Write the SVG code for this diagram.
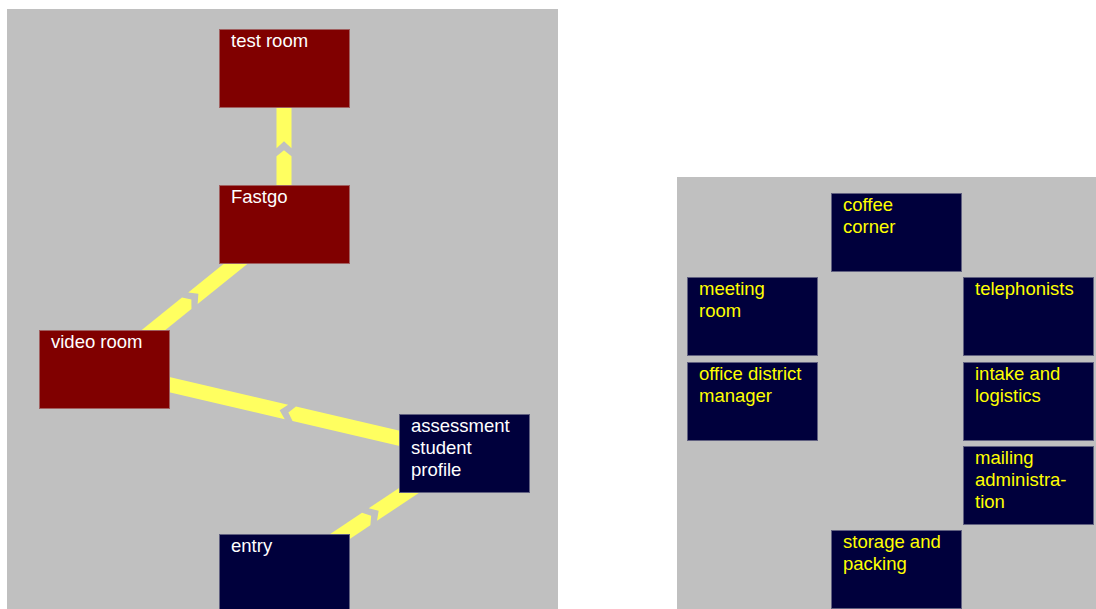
<svg xmlns="http://www.w3.org/2000/svg" width="1096" height="609" viewBox="0 0 1096 609">
  <defs>
    <style>
      .panel { fill: #c0c0c0; }
      .band { fill: #ffff60; }
      .red { fill: #800000; stroke: #a06060; stroke-width: 1; }
      .navy { fill: #00003c; stroke: #606080; stroke-width: 1; }
      .lbl { font-family: "Liberation Sans", Arial, sans-serif; font-size: 18.5px; }
      .w { fill: #ffffff; }
      .y { fill: #ffff00; }
    </style>
  </defs>

  <rect class="panel" x="7" y="9" width="551" height="600"/>
  <rect class="panel" x="677" y="177" width="419" height="432"/>

  <g id="connectors">
    <g id="c-fastgo-test">
      <polygon class="band" points="276.5,225 291.5,225 291.5,156.25 284,150.25 276.5,156.25"/>
      <polygon class="band" points="276.5,68 291.5,68 291.5,148.25 284,141.25 276.5,148.25"/>
    </g>
    <g id="c-video-fastgo">
      <polygon class="band" points="99.8,363.66 109.2,375.34 191.42,309.11 191.39,299.51 182.01,297.43"/>
      <polygon class="band" points="188.24,292.41 279.8,218.66 289.2,230.34 197.65,304.09 198.39,293.86"/>
    </g>
    <g id="c-assessment-video">
      <polygon class="band" points="466.2,446.2 462.8,460.8 292.53,421.08 288.40,412.41 295.94,406.47"/>
      <polygon class="band" points="288.15,404.65 106.2,362.2 102.8,376.8 284.75,419.25 279.63,410.36"/>
    </g>
    <g id="c-entry-assessment">
      <polygon class="band" points="280.34,567.26 288.66,579.74 370.34,525.29 371.17,515.72 362.02,512.81"/>
      <polygon class="band" points="368.68,508.37 460.34,447.26 468.66,459.74 377.0,520.85 378.66,510.73"/>
    </g>
  </g>

  <g id="test-room">
    <rect class="red" x="219.5" y="29.5" width="130" height="78"/>
    <text class="lbl w" x="231" y="47">test room</text>
  </g>
  <g id="fastgo">
    <rect class="red" x="219.5" y="185.5" width="130" height="78"/>
    <text class="lbl w" x="231" y="203">Fastgo</text>
  </g>
  <g id="video-room">
    <rect class="red" x="39.5" y="330.5" width="130" height="78"/>
    <text class="lbl w" x="51" y="348">video room</text>
  </g>
  <g id="assessment">
    <rect class="navy" x="399.5" y="414.5" width="130" height="78"/>
    <text class="lbl w" x="411" y="432">assessment<tspan x="411" dy="22">student</tspan><tspan x="411" dy="22">profile</tspan></text>
  </g>
  <g id="entry">
    <rect class="navy" x="219.5" y="534.5" width="130" height="78"/>
    <text class="lbl w" x="231" y="552">entry</text>
  </g>

  <g id="coffee-corner">
    <rect class="navy" x="831.5" y="193.5" width="130" height="78"/>
    <text class="lbl y" x="843" y="211">coffee<tspan x="843" dy="22">corner</tspan></text>
  </g>
  <g id="meeting-room">
    <rect class="navy" x="687.5" y="277.5" width="130" height="78"/>
    <text class="lbl y" x="699" y="295">meeting<tspan x="699" dy="22">room</tspan></text>
  </g>
  <g id="telephonists">
    <rect class="navy" x="963.5" y="277.5" width="130" height="78"/>
    <text class="lbl y" x="975" y="295">telephonists</text>
  </g>
  <g id="office-district-manager">
    <rect class="navy" x="687.5" y="362.5" width="130" height="78"/>
    <text class="lbl y" x="699" y="380">office district<tspan x="699" dy="22">manager</tspan></text>
  </g>
  <g id="intake-logistics">
    <rect class="navy" x="963.5" y="362.5" width="130" height="78"/>
    <text class="lbl y" x="975" y="380">intake and<tspan x="975" dy="22">logistics</tspan></text>
  </g>
  <g id="mailing-administration">
    <rect class="navy" x="963.5" y="446.5" width="130" height="78"/>
    <text class="lbl y" x="975" y="464">mailing<tspan x="975" dy="22">administra-</tspan><tspan x="975" dy="22">tion</tspan></text>
  </g>
  <g id="storage-packing">
    <rect class="navy" x="831.5" y="530.5" width="130" height="78"/>
    <text class="lbl y" x="843" y="548">storage and<tspan x="843" dy="22">packing</tspan></text>
  </g>
</svg>
